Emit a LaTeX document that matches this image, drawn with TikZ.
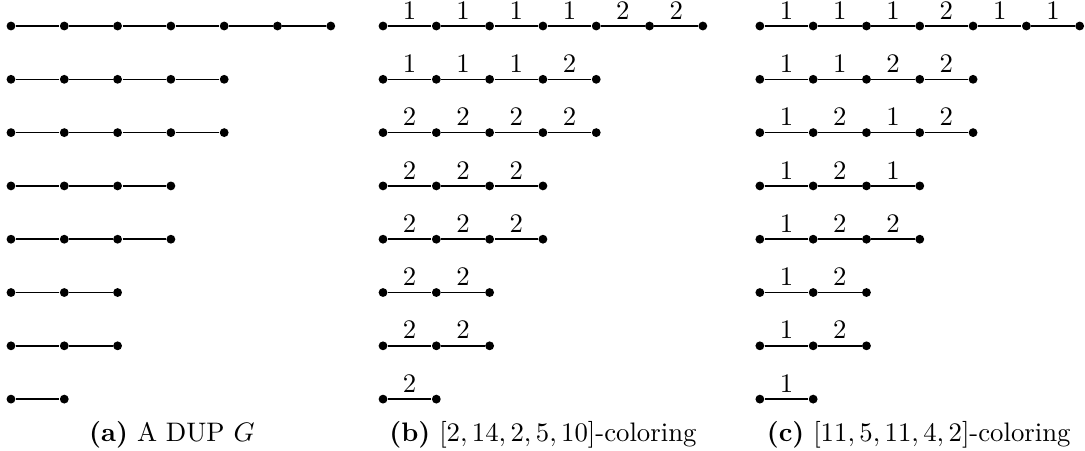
\documentclass[tikz,border=0pt]{standalone}
\usepackage{amsmath,amssymb}
\usepackage{tikz}
\usetikzlibrary{positioning}
\tikzset{
    vertex/.style={circle, fill=black, inner sep=0pt, minimum size=3.3pt},
    pathedge/.style={line width=0.55pt},
    colour/.style={above, font=\normalsize, inner sep=2.3pt},
    subcap/.style={anchor=base, font=\normalsize},
}

\begin{document}
\begin{tikzpicture}[x=0.7cm, y=0.7cm]
    \useasboundingbox (-0.206,0.488) rectangle (20.15,-7.955);

    % (a) the graph itself
    \foreach \n [count=\r] in {7,5,5,4,4,3,3,2} {
        \node[vertex] (a\r-1) at (0,1-\r) {};
        \foreach \i in {2,...,\n} {
            \pgfmathtruncatemacro\last{\i-1}
            \node[vertex] (a\r-\i) at (\i-1,1-\r) {};
            \draw[pathedge] (a\r-\last) -- (a\r-\i);
        }
    }

    % (b) first colouring
    \foreach \cols [count=\r] in {{1,1,1,1,2,2},{1,1,1,2},{2,2,2,2},{2,2,2},{2,2,2},{2,2},{2,2},{2}} {
        \node[vertex] (b\r-0) at (6.98,1-\r) {};
        \foreach \c [count=\i] in \cols {
            \pgfmathtruncatemacro\last{\i-1}
            \node[vertex] (b\r-\i) at (6.98+\i,1-\r) {};
            \draw[pathedge] (b\r-\last) -- node[colour] {\c} (b\r-\i);
        }
    }

    % (c) second colouring
    \foreach \cols [count=\r] in {{1,1,1,2,1,1},{1,1,2,2},{1,2,1,2},{1,2,1},{1,2,2},{1,2},{1,2},{1}} {
        \node[vertex] (c\r-0) at (14.05,1-\r) {};
        \foreach \c [count=\i] in \cols {
            \pgfmathtruncatemacro\last{\i-1}
            \node[vertex] (c\r-\i) at (14.05+\i,1-\r) {};
            \draw[pathedge] (c\r-\last) -- node[colour] {\c} (c\r-\i);
        }
    }

    % captions
    \node[subcap] (capa) at (3.02,-7.79) {\textbf{(a)} A DUP $G$};
    \node[subcap] (capb) at (9.98,-7.79) {\textbf{(b)} $[2,14,2,5,10]$-coloring};
    \node[subcap] (capc) at (17.03,-7.79) {\textbf{(c)} $[11,5,11,4,2]$-coloring};
\end{tikzpicture}
\end{document}
